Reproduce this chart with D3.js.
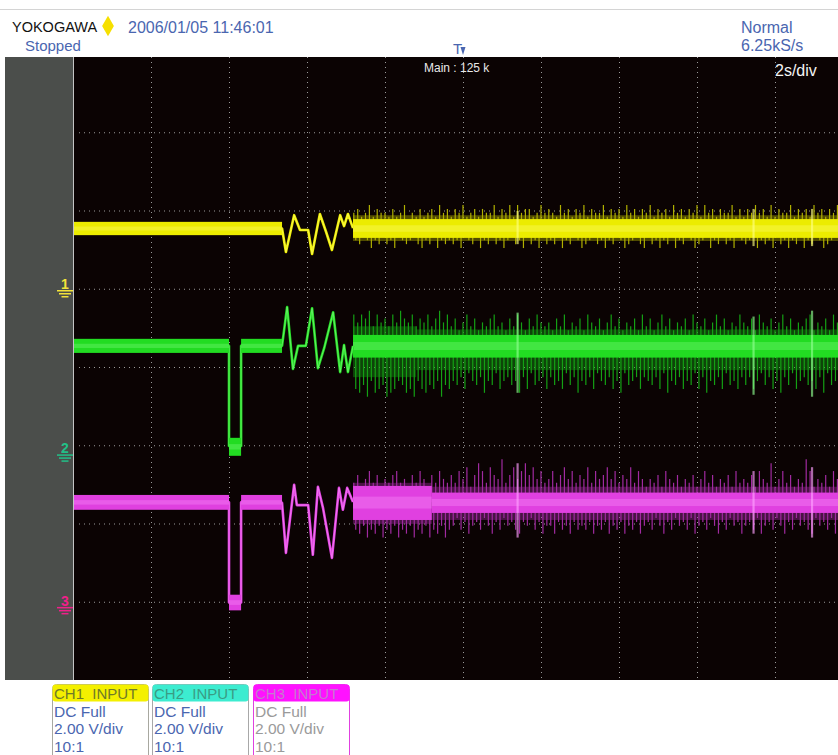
<!DOCTYPE html>
<html>
<head>
<meta charset="utf-8">
<script src="https://cdn.jsdelivr.net/npm/d3@7"></script>
<style>
  body { margin: 0; background: #fff; }
  svg { display: block; }
  text { font-family: "Liberation Sans", Arial, sans-serif; }
</style>
</head>
<body>
<div id="scope"></div>
<script>
const W = 838, H = 755
const PLOT = { LEFT: 73, RIGHT: 838, TOP: 57, BOTTOM: 680 }

// 2 s/div, 10 divisions, trigger in the middle; 8 vertical divisions
const timeTicks = [-8, -6, -4, -2, 0, 2, 4, 6, 8]
const divTicks = [-3, -2, -1, 0, 1, 2, 3]
const voltsPerDiv = 2

// ground marker of each channel, in divisions from screen centre
const groundDiv = [1.0, -1.1, -3.05]
const levels = [1.54, 2.74, 2.64]

// [time s, volts] : quiet part, dropout and the ringing before the noise starts
const ch1Trace = [[-10, 1.54], [-4.64, 1.54], [-4.54, 0.94], [-4.33, 1.88], [-4.18, 1.50], [-3.97, 1.50],
  [-3.87, 0.89], [-3.67, 1.91], [-3.51, 1.45], [-3.36, 0.99], [-3.15, 1.88], [-3.05, 1.60],
  [-2.95, 1.91], [-2.82, 1.55]]
const ch2Trace = [[-10, 2.74], [-6.0, 2.74], [-6.0, 0.18], [-5.69, 0.18], [-5.69, 2.74], [-4.64, 2.74],
  [-4.51, 3.73], [-4.36, 2.15], [-4.23, 2.74], [-4.03, 2.74], [-3.87, 3.70], [-3.72, 2.17],
  [-3.56, 2.68], [-3.33, 3.60], [-3.15, 2.07], [-3.05, 2.76], [-2.95, 2.07], [-2.82, 2.74]]
const ch3Trace = [[-10, 2.64], [-6.0, 2.64], [-6.0, 0.08], [-5.69, 0.08], [-5.69, 2.64], [-4.64, 2.63],
  [-4.54, 1.35], [-4.33, 3.09], [-4.26, 2.57], [-3.97, 2.57], [-3.85, 1.30], [-3.72, 3.04],
  [-3.59, 2.50], [-3.36, 1.22], [-3.18, 3.01], [-3.08, 2.45], [-2.97, 3.01], [-2.82, 2.65]]

// [from s, to s, volts, half thickness volts] of the thick quiet band
const ch1Quiet = [[-10, -4.64, 1.54, 0.17]]
const ch2Quiet = [[-10, -6.0, 2.74, 0.18], [-6.0, -5.69, 0.16, 0.23], [-5.69, -4.64, 2.74, 0.18]]
const ch3Quiet = [[-10, -6.0, 2.64, 0.19], [-6.0, -5.69, 0.08, 0.2], [-5.69, -4.64, 2.64, 0.19]]

// noise band: [from s, to s, up volts, down volts] for the dense core and the softer fringe
const ch1Core = [[-2.82, 10, 0.24, 0.24]]
const ch2Core = [[-2.82, 10, 0.28, 0.3]]
const ch3Core = [[-2.82, -0.8, 0.42, 0.45], [-0.8, 10, 0.25, 0.27]]
const ch1Fringe = [[-2.82, 10, 0.34, 0.32]]
const ch2Fringe = [[-2.82, -1.2, 0.5, 0.8], [-1.2, 10, 0.42, 0.62]]
const ch3Fringe = [[-2.82, -0.8, 0.5, 0.55], [-0.8, 10, 0.4, 0.45]]

// noise spikes every 0.1 s, one hex digit = 0.1 V; down spikes sit half a step later
const noiseStart = -2.8, noiseStep = 0.1
const ch1Hi = "4534635443534624353453645" + "3546345354463546364553464" + "5436453546354463545364535" + "4635453645354636453544635" + "3546453635446354536453546"
const ch1Lo = "3423534243523432453425343" + "4352342534243532435243524" + "3425342354324353423543245" + "2435342534235432534243523" + "4325343524353425342354324"
const ch2Hi = "8687958675869768576857968" + "5746857465785647586475865" + "6475846574865746857465748" + "5746857465748657468574658" + "6574865746857465784657486"
const ch2Lo = "bcad9cbadcb9acbd9bcab9dab" + "9a8b79a8c9a7b98a9c8b7a98b" + "8a9b7a8c9a8b79a8b9c7a98b8" + "9a8b7c9a8b9a7b8c9a8b7a9b8" + "a8b97a8b9c8a7b98a9b8c7a9b"
const ch3Hi = "5746857465785647586475865" + "7586947a85976b57968a79685" + "6857968576958679685769586" + "4657486574657468574657485" + "6574865a46857465b84657486"
const ch3Lo = "7869786978697869786978697" + "6475865746857465785647586" + "6857685767586758675867586" + "5746857465748657468574658" + "6574865746857465784657486"

// bright bursts seen on every channel
const burstTimes = [1.4, 7.45, 8.95]
const ch1BurstHi = [0.45, 0.5, 0.5], ch1BurstLo = [0.4, 0.45, 0.45]
const ch2BurstHi = [0.85, 0.75, 0.9], ch2BurstLo = [1.2, 1.25, 1.3]
const ch3BurstHi = [1.0, 0.8, 0.9], ch3BurstLo = [0.9, 0.8, 0.9]

const boxLabels = ["CH1  INPUT", "CH2  INPUT", "CH3  INPUT"]
const boxLines = ["DC Full", "2.00 V/div", "10:1"]

const palette = [
  { fringe: "#b0b000", core: "#ecec00", centre: "#ffff80", mark: "#f2e23a" },
  { fringe: "#14a014", core: "#22dc22", centre: "#90ff90", mark: "#22c088" },
  { fringe: "#a02aa0", core: "#e040e0", centre: "#ffa0ff", mark: "#f0208a" }
]
const BLUE = "#4a66b0"

const svg = d3.select("#scope").append("svg")
  .attr("width", W)
  .attr("height", H)

svg.append("rect").attr("width", W).attr("height", H).attr("fill", "#fff")

// thin rule at the very top
svg.append("line")
  .attr("x1", 0).attr("x2", W).attr("y1", 9.5).attr("y2", 9.5)
  .attr("stroke", "#d4d4d4")

// ---- header
svg.append("text").attr("x", 12).attr("y", 32).attr("font-size", 14.5).attr("fill", "#111").text("YOKOGAWA")
svg.append("path")
  .attr("d", d3.symbol(d3.symbolDiamond, 120)())
  .attr("transform", "translate(108,26)")
  .attr("fill", "#f6e000")
svg.append("circle").attr("cx", 108).attr("cy", 26).attr("r", 4.5).attr("fill", "#f6e000")
svg.append("text").attr("x", 128).attr("y", 33).attr("font-size", 16).attr("fill", BLUE).text("2006/01/05 11:46:01")
svg.append("text").attr("x", 25).attr("y", 51).attr("font-size", 15).attr("fill", BLUE).text("Stopped")
svg.append("text").attr("x", 741).attr("y", 33).attr("font-size", 16).attr("fill", BLUE).text("Normal")
svg.append("text").attr("x", 741).attr("y", 51).attr("font-size", 16).attr("fill", BLUE).text("6.25kS/s")

// ---- screen
svg.append("rect")
  .attr("x", 5).attr("y", PLOT.TOP).attr("width", PLOT.LEFT - 5).attr("height", PLOT.BOTTOM - PLOT.TOP)
  .attr("fill", "#4b4e4b")
svg.append("rect")
  .attr("x", PLOT.LEFT).attr("y", PLOT.TOP).attr("width", PLOT.RIGHT - PLOT.LEFT).attr("height", PLOT.BOTTOM - PLOT.TOP)
  .attr("fill", "#0b0303")

const x = d3.scaleLinear().domain([-10, 10]).range([73, 853])
const yDiv = d3.scaleLinear().domain([-4, 4]).range([680, 54])
const chY = (c, v) => yDiv(groundDiv[c] + v / voltsPerDiv)

// trigger mark sits over time 0
svg.append("text").attr("x", x(0) - 10).attr("y", 54).attr("font-size", 15).attr("fill", BLUE).text("T")
svg.append("path")
  .attr("d", `M${x(0) - 2.5},47 L${x(0) + 2.5},47 L${x(0)},55 Z`)
  .attr("fill", BLUE)

svg.append("defs").append("clipPath").attr("id", "screen")
  .append("rect")
  .attr("x", PLOT.LEFT + 1).attr("y", PLOT.TOP).attr("width", PLOT.RIGHT - PLOT.LEFT).attr("height", PLOT.BOTTOM - PLOT.TOP)

const grid = svg.append("g").attr("clip-path", "url(#screen)")
grid.selectAll(".vgrid")
  .data(timeTicks)
  .enter().append("line")
  .attr("x1", d => x(d) + 0.5).attr("x2", d => x(d) + 0.5)
  .attr("y1", PLOT.TOP).attr("y2", PLOT.BOTTOM)
  .attr("stroke", "#9a9a9a").attr("stroke-width", 1).attr("stroke-dasharray", "1,4")
grid.selectAll(".hgrid")
  .data(divTicks)
  .enter().append("line")
  .attr("x1", PLOT.LEFT + 6).attr("x2", PLOT.RIGHT)
  .attr("y1", d => yDiv(d) + 0.5).attr("y2", d => yDiv(d) + 0.5)
  .attr("stroke", "#9a9a9a").attr("stroke-width", 1).attr("stroke-dasharray", "1,4")

svg.append("line")
  .attr("x1", PLOT.LEFT + 0.5).attr("x2", PLOT.LEFT + 0.5).attr("y1", PLOT.TOP).attr("y2", PLOT.BOTTOM)
  .attr("stroke", "#c4c4c4")

svg.append("text").attr("x", 424).attr("y", 72).attr("font-size", 12).attr("fill", "#e8e8e8").text("Main : 125 k")
svg.append("text").attr("x", 775).attr("y", 76).attr("font-size", 16).attr("fill", "#f4f4f4").text("2s/div")

const channels = [
  { trace: ch1Trace, quiet: ch1Quiet, core: ch1Core, fringe: ch1Fringe, hi: ch1Hi, lo: ch1Lo, bHi: ch1BurstHi, bLo: ch1BurstLo },
  { trace: ch2Trace, quiet: ch2Quiet, core: ch2Core, fringe: ch2Fringe, hi: ch2Hi, lo: ch2Lo, bHi: ch2BurstHi, bLo: ch2BurstLo },
  { trace: ch3Trace, quiet: ch3Quiet, core: ch3Core, fringe: ch3Fringe, hi: ch3Hi, lo: ch3Lo, bHi: ch3BurstHi, bLo: ch3BurstLo }
]

const traces = svg.append("g").attr("clip-path", "url(#screen)")

function bandRect(g, c, d, lvl, k, fill, op) {
  g.append("rect")
    .attr("x", x(d[0])).attr("width", x(d[1]) - x(d[0]))
    .attr("y", chY(c, lvl + d[2] * k)).attr("height", chY(c, lvl - d[3] * k) - chY(c, lvl + d[2] * k))
    .attr("fill", fill).attr("opacity", op)
}

function drawChannel(ch, c) {
  const col = palette[c]
  const g = traces.append("g")
  const lvl = levels[c]

  // softer fringe around the noise core
  ch.fringe.forEach(d => bandRect(g, c, d, lvl, 1, col.fringe, 0.42))

  // noise spikes, up and down drawn as separate hairs
  const ups = ch.hi.split("").map((h, i) => ({ t: noiseStart + i * noiseStep, v: parseInt(h, 16) / 10 }))
  const downs = ch.lo.split("").map((h, i) => ({ t: noiseStart + (i + 0.5) * noiseStep, v: parseInt(h, 16) / 10 }))
  g.selectAll(".up")
    .data(ups)
    .enter().append("line")
    .attr("x1", d => x(d.t)).attr("x2", d => x(d.t))
    .attr("y1", d => chY(c, lvl + d.v)).attr("y2", chY(c, lvl))
    .attr("stroke", col.fringe).attr("stroke-width", 1.2)
  g.selectAll(".down")
    .data(downs)
    .enter().append("line")
    .attr("x1", d => x(d.t)).attr("x2", d => x(d.t))
    .attr("y1", chY(c, lvl)).attr("y2", d => chY(c, lvl - d.v))
    .attr("stroke", col.fringe).attr("stroke-width", 1.2)

  // dense core
  ch.core.forEach(d => {
    bandRect(g, c, d, lvl, 1, col.core, 1)
    bandRect(g, c, d, lvl, 0.35, col.centre, 0.3)
  })

  // bursts
  g.selectAll(".burst")
    .data(burstTimes)
    .enter().append("line")
    .attr("x1", d => x(d)).attr("x2", d => x(d))
    .attr("y1", (d, i) => chY(c, lvl + ch.bHi[i])).attr("y2", (d, i) => chY(c, lvl - ch.bLo[i]))
    .attr("stroke", col.centre).attr("stroke-width", 2.2).attr("opacity", 0.65)

  // ringing and dropout edges, drawn under the quiet band
  const line = d3.line().x(d => x(d[0])).y(d => chY(c, d[1]))
  g.append("path")
    .datum(ch.trace)
    .attr("d", line)
    .attr("fill", "none").attr("stroke", col.core).attr("stroke-width", 2.6).attr("stroke-linejoin", "round")
  g.append("path")
    .datum(ch.trace)
    .attr("d", line)
    .attr("fill", "none").attr("stroke", col.centre).attr("stroke-width", 0.8).attr("opacity", 0.7)

  // quiet band
  ch.quiet.forEach(d => {
    g.append("rect")
      .attr("x", x(d[0])).attr("width", x(d[1]) - x(d[0]))
      .attr("y", chY(c, d[2] + d[3])).attr("height", chY(c, d[2] - d[3]) - chY(c, d[2] + d[3]))
      .attr("fill", col.core)
    g.append("rect")
      .attr("x", x(d[0])).attr("width", x(d[1]) - x(d[0]))
      .attr("y", chY(c, d[2] + d[3] * 0.3)).attr("height", chY(c, d[2] - d[3] * 0.3) - chY(c, d[2] + d[3] * 0.3))
      .attr("fill", col.centre).attr("opacity", 0.3)
  })
}

channels.forEach(drawChannel)

// ground markers on the left panel
groundDiv.forEach((gd, c) => {
  const gy = yDiv(gd)
  const mk = svg.append("g").attr("stroke", palette[c].mark).attr("stroke-width", 1.5)
  mk.append("text")
    .attr("x", 65).attr("y", gy).attr("text-anchor", "middle")
    .attr("font-size", 14).attr("font-weight", "bold").attr("stroke", "none")
    .attr("fill", palette[c].mark).text(c + 1)
  mk.append("line").attr("x1", 57).attr("x2", 73).attr("y1", gy + 2).attr("y2", gy + 2)
  mk.append("line").attr("x1", 59).attr("x2", 71).attr("y1", gy + 5).attr("y2", gy + 5)
  mk.append("line").attr("x1", 61.5).attr("x2", 68.5).attr("y1", gy + 8).attr("y2", gy + 8)
})

// ---- channel boxes
const boxX = [52, 152, 253]
const boxFill = ["#f4f000", "#3cecd0", "#ff12ff"]
const boxHeadText = ["#6e7a28", "#3a9c84", "#c47ad0"]
const boxBorder = ["#a8a8a0", "#a8a8a8", "#e040e0"]
const boxBody = [BLUE, BLUE, "#9a9a9a"]

boxLabels.forEach((lab, i) => {
  const b = svg.append("g").attr("transform", `translate(${boxX[i]},684)`)
  b.append("rect")
    .attr("x", 0.5).attr("y", 0.5).attr("width", 96).attr("height", 90).attr("rx", 4)
    .attr("fill", "#fff").attr("stroke", boxBorder[i])
  b.append("rect")
    .attr("x", 0.5).attr("y", 0.5).attr("width", 96).attr("height", 17).attr("rx", 3)
    .attr("fill", boxFill[i])
  b.append("text")
    .attr("x", 2).attr("y", 14.5).attr("font-size", 15).attr("fill", boxHeadText[i])
    .style("white-space", "pre").text(lab)
  b.selectAll(".ln")
    .data(boxLines)
    .enter().append("text")
    .attr("x", 2).attr("y", (d, k) => 32.5 + k * 17.5)
    .attr("font-size", 15.5).attr("fill", boxBody[i])
    .text(d => d)
})
</script>
</body>
</html>
